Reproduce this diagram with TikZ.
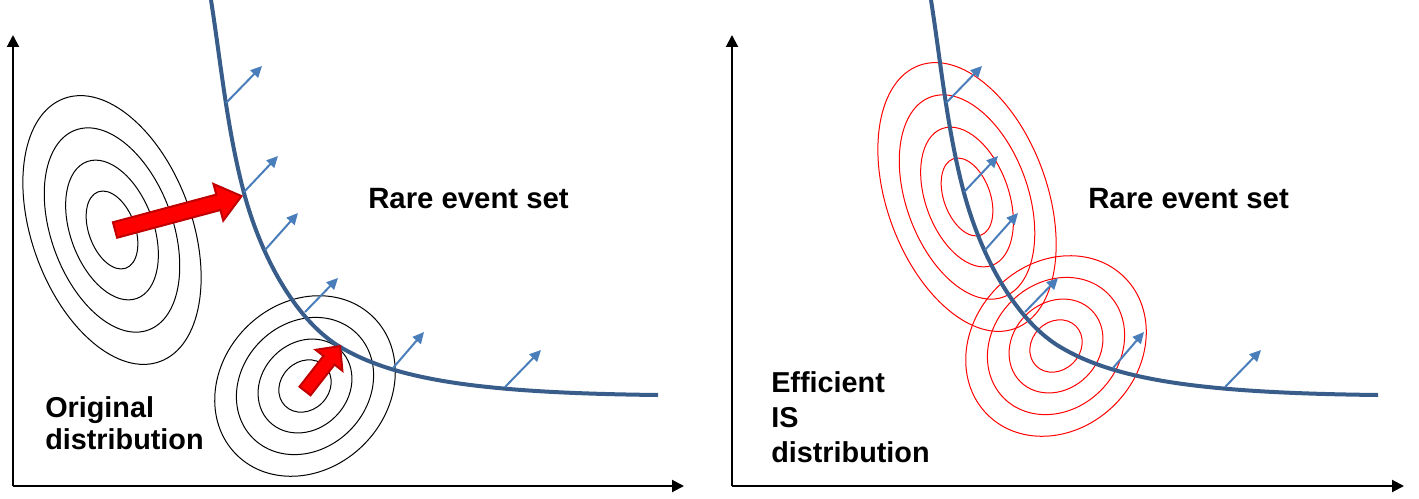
\documentclass[tikz,border=0pt]{standalone}
\usepackage{fontspec}
\setmainfont{Liberation Sans}
\usetikzlibrary{arrows.meta}
\definecolor{curveblue}{HTML}{385D8A}
\definecolor{normblue}{HTML}{4A7EBB}
\definecolor{darkred}{HTML}{C00000}
\tikzset{
 axisline/.style={line width=1.5pt, -{Triangle[width=9pt,length=9pt]}},
 boundary/.style={curveblue, line width=3pt},
 normalvec/.style={normblue, line width=1.5pt, -{Triangle[width=8pt,length=8.5pt]}},
 contour/.style={line width=0.75pt},
 redarrow/.style={fill=red, draw=darkred, line width=1.5pt, line join=miter},
 lbl/.style={font=\bfseries\fontsize{21.6}{25}\selectfont, inner sep=0pt, anchor=base west},
 rlbl/.style={font=\bfseries\fontsize{22}{26}\selectfont, inner sep=0pt, anchor=base west},
}
\begin{document}
\begin{tikzpicture}[x=0.75pt,y=-0.75pt]
\useasboundingbox (0,0) rectangle (1419,499);

% ---- contour ellipses ----
\coordinate (cA) at (112,230);
\coordinate (cB) at (305,386);
\coordinate (cC) at (967,197);
\coordinate (cD) at (1056,346);
\foreach \k in {1,0.76,0.52,0.29}{
  \draw[contour, rotate around={20:(cA)}] (cA) ellipse [x radius=80*\k, y radius=140*\k];
  \draw[contour, rotate around={-45:(cB)}] (cB) ellipse [x radius=83*\k, y radius=97*\k];
  \draw[contour, red, rotate around={20:(cC)}] (cC) ellipse [x radius=80*\k, y radius=140*\k];
  \draw[contour, red, rotate around={-45:(cD)}] (cD) ellipse [x radius=83*\k, y radius=97*\k];
}

% ---- axes ----
\coordinate (oL) at (13,486);
\coordinate (yL) at (13,35);
\coordinate (xL) at (684,486);
\coordinate (oR) at (732,486);
\coordinate (yR) at (732,35);
\coordinate (xR) at (1404,486);
\draw[axisline] (oL) -- (yL);
\draw[axisline] (oL) -- (xL);
\draw[axisline] (oR) -- (yR);
\draw[axisline] (oR) -- (xR);

% ---- limit-state curves, normals and labels ----
\foreach \dx/\s in {0/L,720/R}{
  \begin{scope}[shift={(\dx,0)}]
    \draw[boundary] (211,0) .. controls (221,64) and (227,129) .. (244,193)
                            .. controls (263,263) and (298,320) .. (337,345)
                            .. controls (393,380) and (480,393) .. (658,395);
    \foreach \i/\ax/\ay/\bx/\by in {1/226/103/262/66, 2/244/192/278/156, 3/265/250/298/213, 4/305/312/338/278, 5/393/368/424/332, 6/505/387/541/350}{
      \coordinate (s\i\s) at (\ax,\ay);
      \coordinate (t\i\s) at (\bx,\by);
      \draw[normalvec] (s\i\s) -- (t\i\s);
    }
    \node[rlbl] (rare\s) at (368,208) {Rare event set};
  \end{scope}
}

% ---- red arrows ----
\begin{scope}[shift={(115,230)}, rotate=15]
  \draw[redarrow] (0,-8) -- (107,-8) -- (107,-19) -- (131,0) -- (107,19) -- (107,8) -- (0,8) -- cycle;
\end{scope}
\begin{scope}[shift={(305,391)}, rotate=52]
  \draw[redarrow] (0,-7) -- (39,-7) -- (39,-17) -- (57,0) -- (39,17) -- (39,7) -- (0,7) -- cycle;
\end{scope}

% ---- text ----
\node[lbl] (orig1) at (45,417) {Original};
\node[lbl] (orig2) at (45,449) {distribution};
\node[lbl] (eff1) at (771,392) {Efficient};
\node[lbl] (eff2) at (771,427) {IS};
\node[lbl] (eff3) at (771,462) {distribution};
\end{tikzpicture}
\end{document}
